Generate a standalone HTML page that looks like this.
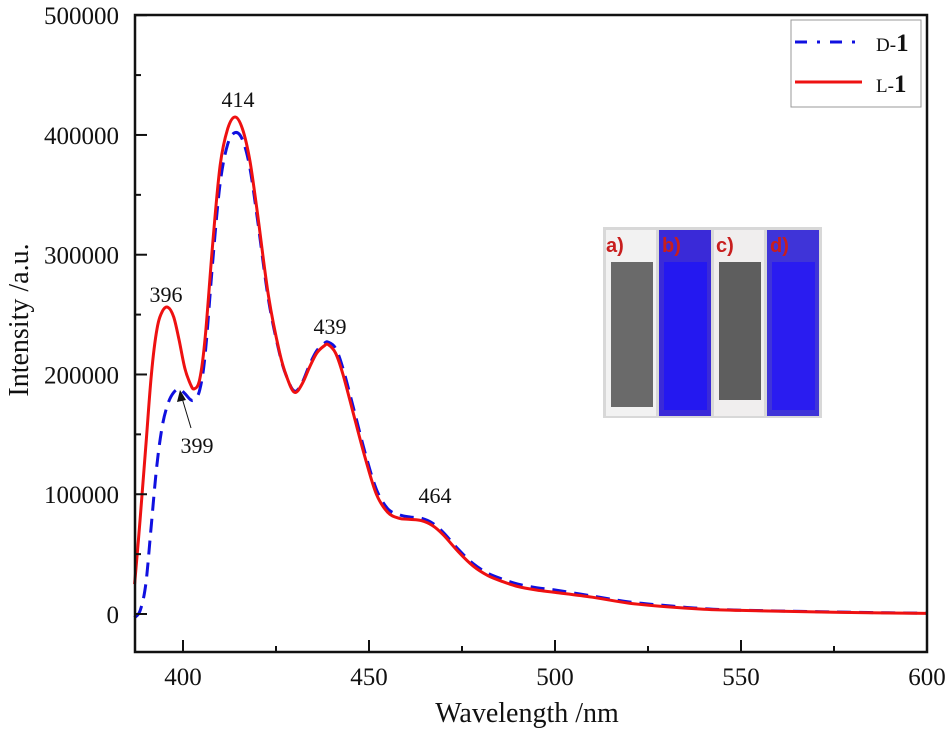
<!DOCTYPE html>
<html><head><meta charset="utf-8"><style>
body{margin:0;background:#fff}
svg text{font-family:"Liberation Serif",serif;fill:#111}
</style></head><body>
<svg id="chart" width="950" height="751" viewBox="0 0 950 751" xmlns="http://www.w3.org/2000/svg">
<g id="marks"></g>
<g id="axes"></g>
<g>
 <rect x="603" y="227" width="219" height="191" fill="#d8d8d8"/>
 <rect x="606" y="230" width="50" height="186" fill="#f2f2f2"/>
 <rect x="611" y="262" width="42" height="145" fill="#6a6a6a"/>
 <rect x="659" y="230" width="52" height="186" fill="#3a2ad8"/>
 <rect x="664" y="262" width="43" height="148" fill="#2418f0"/>
 <rect x="714" y="230" width="50" height="186" fill="#f0eeee"/>
 <rect x="719" y="262" width="42" height="138" fill="#5e5e5e"/>
 <rect x="767" y="230" width="52" height="186" fill="#3f34d8"/>
 <rect x="772" y="262" width="43" height="148" fill="#2a1cf0"/>
 <text x="606" y="252" font-size="20" font-weight="bold" style="fill:#c81e1e;font-family:'Liberation Sans',sans-serif">a)</text>
 <text x="662" y="252" font-size="20" font-weight="bold" style="fill:#c81e1e;font-family:'Liberation Sans',sans-serif">b)</text>
 <text x="716" y="252" font-size="20" font-weight="bold" style="fill:#c81e1e;font-family:'Liberation Sans',sans-serif">c)</text>
 <text x="770" y="252" font-size="20" font-weight="bold" style="fill:#c81e1e;font-family:'Liberation Sans',sans-serif">d)</text>
</g>
<g>
 <rect x="791" y="20" width="130" height="87" fill="#fff" stroke="#999" stroke-width="1"/>
 <line x1="795" y1="42" x2="862" y2="42" stroke="#1010e0" stroke-width="3" stroke-dasharray="12,10,3,10"/>
 <text x="876" y="51" font-size="19">D-<tspan font-weight="bold" font-size="25">1</tspan></text>
 <line x1="795" y1="82" x2="862" y2="82" stroke="#ee1111" stroke-width="3"/>
 <text x="876" y="92" font-size="19">L-<tspan font-weight="bold" font-size="25">1</tspan></text>
</g>
<g font-size="22">
 <text x="238" y="107" text-anchor="middle">414</text>
 <text x="166" y="302" text-anchor="middle">396</text>
 <text x="330" y="334" text-anchor="middle">439</text>
 <text x="435" y="503" text-anchor="middle">464</text>
 <text x="197" y="453" text-anchor="middle">399</text>
 <line x1="191" y1="428" x2="182" y2="398" stroke="#111" stroke-width="1"/>
 <polygon points="180,390 177,402 186,400" fill="#111"/>
</g>
<text x="527" y="722" text-anchor="middle" font-size="28">Wavelength /nm</text>
<text transform="translate(28,320) rotate(-90)" text-anchor="middle" font-size="28">Intensity /a.u.</text>
</svg>
<script>
const wlL=[387,388.5,390,391.5,393,394.5,396,397.5,399,400.5,402,403,404.5,406,408,410,412,414,416,418,420,423,426,428,430,432,434,436,438,439,441,443,446,449,452,455,458,461,464,467,470,474,478,482,486,490,495,500,510,520,530,540,550,575,600];
const intL=[25000,80000,140000,200000,238000,253000,256000,248000,228000,205000,192000,188000,196000,232000,310000,375000,405000,415000,405000,378000,335000,265000,218000,197000,185000,192000,206000,218000,224000,225000,218000,200000,165000,130000,100000,85000,80000,79000,78000,74000,66000,52000,40000,32000,27000,23000,20000,18000,14000,9000,6000,4000,3000,1500,500];
const wlD=[387,388.5,390,391.5,393,394.5,396,397.5,399,400.5,402,403,404.5,406,408,410,412,414,416,418,420,423,426,428,430,432,434,436,438,439,441,443,446,449,452,455,458,461,464,467,470,474,478,482,486,490,495,500,510,520,530,540,550,575,600];
const intD=[-3000,3000,25000,75000,125000,158000,176000,185000,188000,184000,179000,179000,187000,218000,295000,360000,392000,402000,396000,372000,330000,262000,217000,197000,186000,193000,208000,220000,226000,227000,222000,205000,170000,134000,104000,88000,83000,81000,80000,76000,68000,54000,42000,34000,29000,25000,22000,20000,15000,10000,7000,4500,3200,1700,600];
const xTicks=[400,450,500,550,600];
const yTicks=[0,100000,200000,300000,400000,500000];
const X0=135,X1=927,Y0=652,YT=15;
function xs(v){return 183+(v-400)*3.72;}
function ys(v){return 614-v*0.0011976;}
const ns="http://www.w3.org/2000/svg";
function pathFrom(xa,ya){
  const p=xa.map((x,i)=>[xs(x),ys(ya[i])]);
  let d="M"+p[0][0].toFixed(1)+","+p[0][1].toFixed(1);
  for(let i=0;i<p.length-1;i++){
    const p0=p[Math.max(0,i-1)],p1=p[i],p2=p[i+1],p3=p[Math.min(p.length-1,i+2)];
    const c1=[p1[0]+(p2[0]-p0[0])/6,p1[1]+(p2[1]-p0[1])/6];
    const c2=[p2[0]-(p3[0]-p1[0])/6,p2[1]-(p3[1]-p1[1])/6];
    d+=" C"+c1[0].toFixed(1)+","+c1[1].toFixed(1)+" "+c2[0].toFixed(1)+","+c2[1].toFixed(1)+" "+p2[0].toFixed(1)+","+p2[1].toFixed(1);
  }
  return d;
}
const marks=document.getElementById('marks');
const pd=document.createElementNS(ns,'path');
pd.setAttribute('d',pathFrom(wlD,intD));
pd.setAttribute('fill','none');pd.setAttribute('stroke','#1010e0');pd.setAttribute('stroke-width','3');
pd.setAttribute('stroke-dasharray','14,8');


marks.appendChild(pd);
const pl=document.createElementNS(ns,'path');
pl.setAttribute('d',pathFrom(wlL,intL));
pl.setAttribute('fill','none');pl.setAttribute('stroke','#ee1111');pl.setAttribute('stroke-width','3');


marks.appendChild(pl);
const axes=document.getElementById('axes');
const frame=document.createElementNS(ns,'rect');
frame.setAttribute('x',X0);frame.setAttribute('y',YT);frame.setAttribute('width',X1-X0);frame.setAttribute('height',Y0-YT);
frame.setAttribute('fill','none');frame.setAttribute('stroke','#111');frame.setAttribute('stroke-width','2.5');


axes.appendChild(frame);
function line(x1,y1,x2,y2,w){const l=document.createElementNS(ns,'line');l.setAttribute('x1',x1);l.setAttribute('y1',y1);l.setAttribute('x2',x2);l.setAttribute('y2',y2);l.setAttribute('stroke','#111');l.setAttribute('stroke-width',w);axes.appendChild(l);return l;}
xTicks.forEach((v,i)=>{
  const t=line(xs(v),Y0,xs(v),Y0-12,2);
  
  
  if(i<xTicks.length-1){const m=line(xs(v+25),Y0,xs(v+25),Y0-6,2);
  
  }
  const tx=document.createElementNS(ns,'text');
  tx.setAttribute('x',xs(v));tx.setAttribute('y',Y0+33);tx.setAttribute('text-anchor','middle');tx.setAttribute('font-size','25');
  tx.textContent=v;
  
  
  axes.appendChild(tx);
});
yTicks.forEach((v,i)=>{
  const t=line(X0,ys(v),X0+12,ys(v),2);
  
  
  if(i<yTicks.length-1){const m=line(X0,ys(v+50000),X0+6,ys(v+50000),2);
  
  }
  const tx=document.createElementNS(ns,'text');
  tx.setAttribute('x',X0-16);tx.setAttribute('y',ys(v)+9);tx.setAttribute('text-anchor','end');tx.setAttribute('font-size','25');
  tx.textContent=v;
  
  
  axes.appendChild(tx);
});
</script>
</body></html>
